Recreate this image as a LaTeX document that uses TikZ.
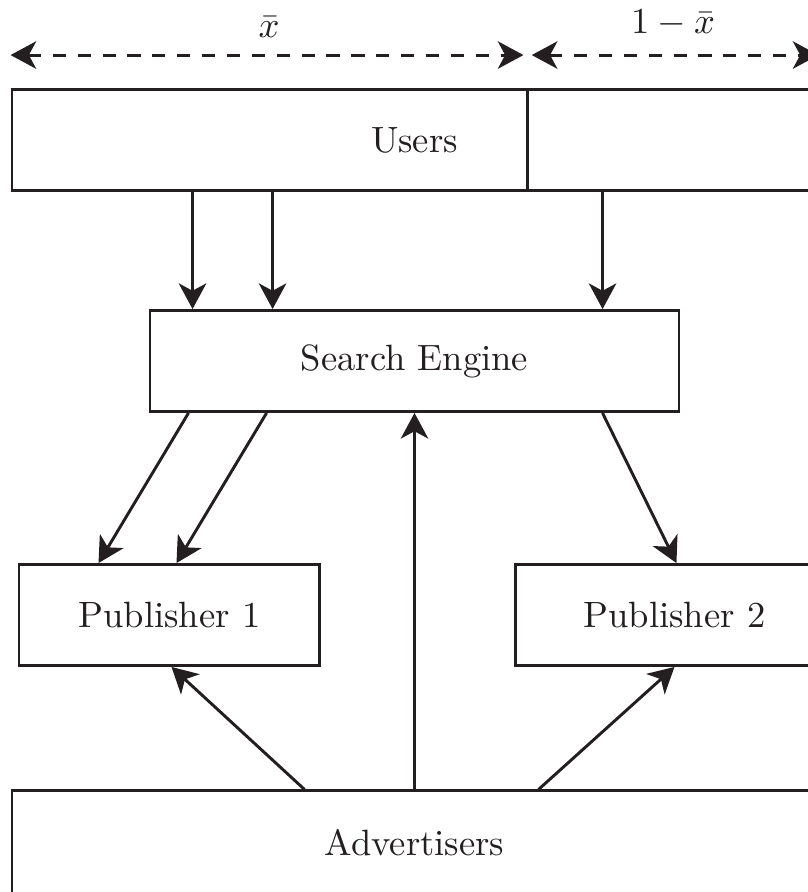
\documentclass[tikz,border=0pt]{standalone}
\usetikzlibrary{arrows.meta}
\definecolor{ink}{RGB}{35,31,32}

\begin{document}
\begin{tikzpicture}[
  box/.style={draw=ink, line width=0.8pt, minimum width=#1, minimum height=0.97cm, inner sep=0pt, text=ink},
  link/.style={draw=ink, line width=0.8pt, -{Stealth[length=7pt,width=7.5pt,inset=2pt]}},
  share/.style={draw=ink, line width=0.8pt, dash pattern=on 3.6pt off 3.2pt,
    {Stealth[length=7pt,width=7.5pt,inset=2pt]}-{Stealth[length=7pt,width=7.5pt,inset=2pt]}}]
\useasboundingbox (0,0) rectangle (7.762,-8.569);
\node[box=7.733cm] (users) at (3.982,-1.345) {Users};
\node[box=5.082cm] (engine) at (3.982,-3.468) {Search Engine};
\node[box=2.891cm] (pub1) at (1.628,-5.908) {Publisher 1};
\node[box=3.045cm] (pub2) at (6.479,-5.908) {Publisher 2};
\node[box=7.733cm, minimum height=0.99cm] (adv) at (3.982,-8.093) {Advertisers};
% split of the users
\coordinate (cut) at ([xshift=4.967cm]users.north west);
\draw[ink, line width=0.8pt] (cut) -- (cut |- users.south);
\coordinate (sl) at ([yshift=0.317cm]users.north west);
\coordinate (sm) at ([yshift=0.317cm]cut);
\coordinate (sr) at ([yshift=0.317cm]users.north east);
\draw[share, shorten >=0.04cm] (sl) -- node[above=1.2pt, text=ink] {$\bar{x}$} (sm);
\draw[share, shorten <=0.04cm] (sm) -- node[above=1.2pt, text=ink] {$1-\bar{x}$} (sr);
% users to search engine
\foreach \dx [count=\i] in {1.748,2.517,5.687} {
  \coordinate (u\i) at ([xshift=\dx cm]users.south west);
  \draw[link] (u\i) -- (u\i |- engine.north);
}
% search engine to publishers
\draw[link] ([xshift=0.384cm]engine.south west) -- ([xshift=0.778cm]pub1.north west);
\draw[link] ([xshift=1.134cm]engine.south west) -- ([xshift=1.527cm]pub1.north west);
\draw[link] ([xshift=4.361cm]engine.south west) -- ([xshift=1.556cm]pub2.north west);
% advertisers
\draw[link] ([xshift=2.824cm]adv.north west) -- ([xshift=1.479cm]pub1.south west);
\draw[link] (adv.north) -- (engine.south);
\draw[link] ([xshift=5.072cm]adv.north west) -- ([xshift=1.537cm]pub2.south west);
\end{tikzpicture}
\end{document}
